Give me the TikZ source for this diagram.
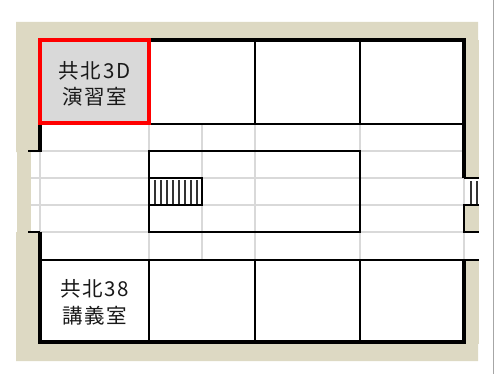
\documentclass[tikz,border=0pt]{standalone}
\usepackage{fontspec}
\newfontfamily\cjk[LetterSpace=8]{Noto Sans CJK JP}
\definecolor{beige}{HTML}{DDD9C3}
\definecolor{gridg}{HTML}{D9D9D9}
\definecolor{roomg}{HTML}{D9D9D9}
\tikzset{
  wallthick/.style={draw=black,line width=4pt},
  wallthin/.style={draw=black,line width=2pt},
  gridline/.style={draw=gridg,line width=1.5pt},
  roomlabel/.style={font=\cjk\fontsize{20.5}{26.5}\selectfont,align=center,text=black!90,inner sep=0pt},
  tread/.style={draw=black!80,line width=1.7pt}
}
\begin{document}
\begin{tikzpicture}[x=1pt,y=-1pt]
\useasboundingbox (0,0) rectangle (494,374);
\fill[white] (0,0) rectangle (494,374);
\draw[draw=black!35,line width=1pt] (493.5,0) -- (493.5,374);
% beige surround
\fill[beige] (16,22) rectangle (478,40) (16,22) rectangle (38,152);
\fill[beige] (17,152) rectangle (31,233);
\fill[beige] (16,232) rectangle (38,361) (16,343) rectangle (478,361);
\fill[beige] (462,40) rectangle (479,178);
\fill[beige] (464,205) rectangle (479,232);
\fill[beige] (462,260) rectangle (479,344);
% corridor grid
\foreach \yy in {151,178,205,232} \draw[gridline] (31,\yy) -- (464,\yy);
\foreach \xx in {40,149,202,255,360,464} \draw[gridline] (\xx,124) -- (\xx,260);
% room selected fill
\fill[roomg] (40,40) rectangle (149,123);
% thin walls
\draw[wallthin] (149,40) -- (149,124);
\draw[wallthin] (255,40) -- (255,124);
\draw[wallthin] (360,40) -- (360,124);
\draw[wallthin] (40,124) -- (464,124);
\draw[wallthin] (40,260) -- (479,260);
\draw[wallthin] (149,260) -- (149,342);
\draw[wallthin] (255,260) -- (255,342);
\draw[wallthin] (360,260) -- (360,342);
\draw[wallthin] (149,151) rectangle (360,232);
% stairs
\foreach \xx in {155,161,...,197} \draw[tread] (\xx,180) -- (\xx,204);
\draw[wallthin] (149,178) rectangle (202,205);
\foreach \xx in {471,477} \draw[tread] (\xx,181) -- (\xx,204);
\draw[wallthin] (464,178) -- (479,178);
\draw[wallthin] (479,205) -- (464,205) -- (464,232) -- (479,232);
% outer walls
\draw[wallthick] (40,152) -- (40,40) -- (464,40) -- (464,178);
\draw[wallthin] (28,151) -- (40,151);
\draw[wallthin] (28,232) -- (40,232);
\draw[wallthick] (40,232) -- (40,342) -- (464,342) -- (464,260);
% selected outline
\draw[draw=red,line width=4pt] (40,40) rectangle (149,123);
% labels
\node[roomlabel] (r1) at (94.5,84) {共北3D\\演習室};
\node[roomlabel] (r2) at (94.5,302.5) {共北38\\講義室};
\end{tikzpicture}
\end{document}
